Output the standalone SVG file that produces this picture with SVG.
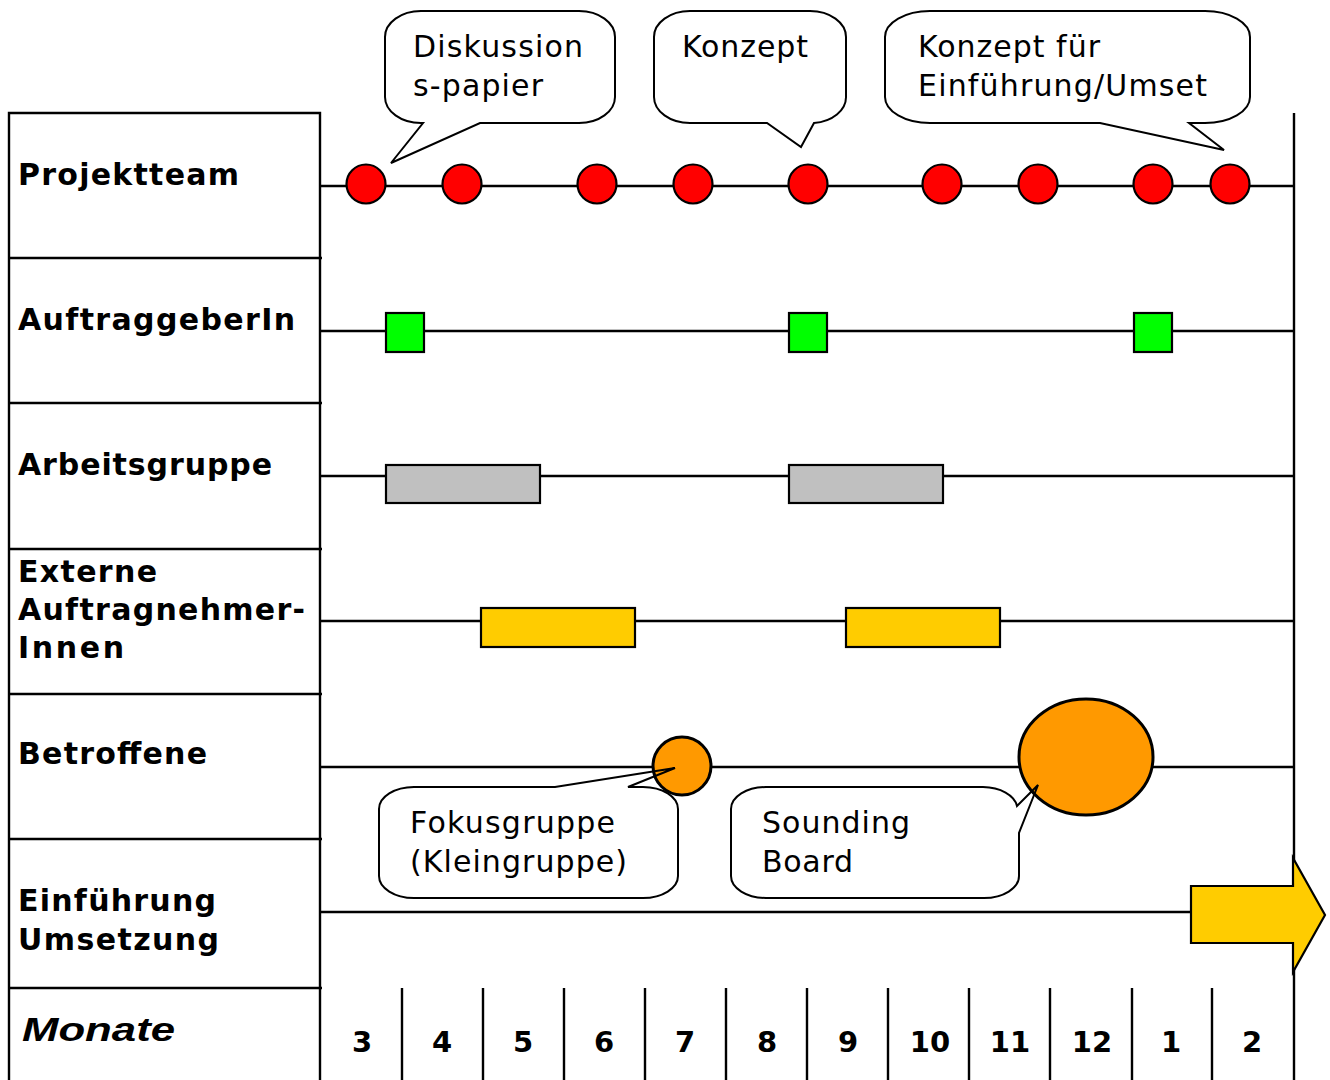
<svg xmlns="http://www.w3.org/2000/svg" width="1330" height="1080" viewBox="0 0 1330 1080">
  <style>
    .grid { stroke: #000; stroke-width: 2.4; fill: none; }
    .lane { stroke: #000; stroke-width: 2.4; }
    .lbl { font-family: "DejaVu Sans", Verdana, sans-serif; font-weight: bold; font-size: 30px; fill: #000; }
    .axis { font-family: "Liberation Sans", Arial, sans-serif; font-weight: bold; font-style: italic; font-size: 34px; fill: #000; }
    .mon { font-family: "DejaVu Sans", Verdana, sans-serif; font-weight: bold; font-size: 29px; fill: #000; text-anchor: middle; }
    .note { font-family: "DejaVu Sans", Verdana, sans-serif; font-size: 30px; fill: #000; }
    .call { fill: none; stroke: #000; stroke-width: 2; stroke-linejoin: miter; }
    .meet { fill: #FF0000; stroke: #000; stroke-width: 2.2; }
    .client { fill: #00FF00; stroke: #000; stroke-width: 2.2; }
    .work { fill: #C0C0C0; stroke: #000; stroke-width: 2.2; }
    .ext { fill: #FFCC00; stroke: #000; stroke-width: 2.2; }
    .aff { fill: #FF9900; stroke: #000; stroke-width: 3; }
  </style>

  <rect width="1330" height="1080" fill="#fff"/>

  <!-- table frame and row separators -->
  <g id="table">
    <path class="grid" d="M9,1080 V113 H320 V1080"/>
    <path class="grid" d="M9,258 H322 M9,403 H322 M9,549 H322 M9,694 H322 M9,839 H322 M9,988 H322"/>
    <path class="grid" d="M1294,113 V1080"/>
    <path class="grid" d="M402,988 V1080 M483,988 V1080 M564,988 V1080 M645,988 V1080 M726,988 V1080 M807,988 V1080 M888,988 V1080 M969,988 V1080 M1050,988 V1080 M1132,988 V1080 M1212,988 V1080"/>
  </g>

  <!-- swimlane lines -->
  <g id="connectors">
    <line class="lane" x1="320" y1="186" x2="1294" y2="186"/>
    <line class="lane" x1="320" y1="331" x2="1294" y2="331"/>
    <line class="lane" x1="320" y1="476" x2="1294" y2="476"/>
    <line class="lane" x1="320" y1="621" x2="1294" y2="621"/>
    <line class="lane" x1="320" y1="767" x2="1294" y2="767"/>
    <line class="lane" x1="320" y1="912" x2="1294" y2="912"/>
  </g>

  <!-- row labels -->
  <g id="labels">
    <text class="lbl" x="18" y="185" textLength="221" lengthAdjust="spacing">Projektteam</text>
    <text class="lbl" x="18" y="330" textLength="277" lengthAdjust="spacing">AuftraggeberIn</text>
    <text class="lbl" x="18" y="475" textLength="254" lengthAdjust="spacing">Arbeitsgruppe</text>
    <text class="lbl" x="18" y="582" textLength="139" lengthAdjust="spacing">Externe</text>
    <text class="lbl" x="18" y="620" textLength="287" lengthAdjust="spacing">Auftragnehmer-</text>
    <text class="lbl" x="18" y="658" textLength="106" lengthAdjust="spacing">Innen</text>
    <text class="lbl" x="18" y="764" textLength="189" lengthAdjust="spacing">Betroffene</text>
    <text class="lbl" x="18" y="911" textLength="198" lengthAdjust="spacing">Einführung</text>
    <text class="lbl" x="18" y="950" textLength="201" lengthAdjust="spacing">Umsetzung</text>
    <text class="axis" x="22" y="1041" textLength="153" lengthAdjust="spacingAndGlyphs">Monate</text>
  </g>

  <!-- month numbers -->
  <g id="months">
    <text class="mon" x="362" y="1052">3</text>
    <text class="mon" x="442" y="1052">4</text>
    <text class="mon" x="523" y="1052">5</text>
    <text class="mon" x="604" y="1052">6</text>
    <text class="mon" x="685" y="1052">7</text>
    <text class="mon" x="767" y="1052">8</text>
    <text class="mon" x="848" y="1052">9</text>
    <text class="mon" x="930" y="1052">10</text>
    <text class="mon" x="1010" y="1052">11</text>
    <text class="mon" x="1092" y="1052">12</text>
    <text class="mon" x="1171" y="1052">1</text>
    <text class="mon" x="1252" y="1052">2</text>
  </g>

  <!-- Projektteam meetings -->
  <g id="projektteam">
    <circle class="meet" cx="366" cy="184" r="19.5"/>
    <circle class="meet" cx="462" cy="184" r="19.5"/>
    <circle class="meet" cx="597" cy="184" r="19.5"/>
    <circle class="meet" cx="693" cy="184" r="19.5"/>
    <circle class="meet" cx="808" cy="184" r="19.5"/>
    <circle class="meet" cx="942" cy="184" r="19.5"/>
    <circle class="meet" cx="1038" cy="184" r="19.5"/>
    <circle class="meet" cx="1153" cy="184" r="19.5"/>
    <circle class="meet" cx="1230" cy="184" r="19.5"/>
  </g>

  <!-- AuftraggeberIn milestones -->
  <g id="auftraggeber">
    <rect class="client" x="386" y="313" width="38" height="39"/>
    <rect class="client" x="789" y="313" width="38" height="39"/>
    <rect class="client" x="1134" y="313" width="38" height="39"/>
  </g>

  <!-- Arbeitsgruppe phases -->
  <g id="arbeitsgruppe">
    <rect class="work" x="386" y="465" width="154" height="38"/>
    <rect class="work" x="789" y="465" width="154" height="38"/>
  </g>

  <!-- external contractors -->
  <g id="extern">
    <rect class="ext" x="481" y="608" width="154" height="39"/>
    <rect class="ext" x="846" y="608" width="154" height="39"/>
  </g>

  <!-- affected groups -->
  <g id="betroffene">
    <circle class="aff" cx="682" cy="766" r="29"/>
    <ellipse class="aff" cx="1086" cy="757" rx="67" ry="58"/>
  </g>

  <!-- rollout arrow -->
  <g id="umsetzung">
    <path class="ext" d="M1191,886 H1293 V858 L1325,915 L1293,972 V943 H1191 Z"/>
  </g>

  <!-- callouts -->
  <g id="callout-diskussion">
    <path class="call" d="M421,11 H579 A36,26 0 0 1 615,37 V97 A36,26 0 0 1 579,123 H480 L391,163 L423,123 H421 A36,26 0 0 1 385,97 V37 A36,26 0 0 1 421,11 Z"/>
    <text class="note" x="413" y="57" textLength="170" lengthAdjust="spacing">Diskussion</text>
    <text class="note" x="413" y="96" textLength="130" lengthAdjust="spacing">s-papier</text>
  </g>
  <g id="callout-konzept">
    <path class="call" d="M690,11 H810 A36,26 0 0 1 846,37 V97 A36,26 0 0 1 814,123 L801,147 L767,123 H690 A36,26 0 0 1 654,97 V37 A36,26 0 0 1 690,11 Z"/>
    <text class="note" x="682" y="57" textLength="126" lengthAdjust="spacing">Konzept</text>
  </g>
  <g id="callout-einfuehrung">
    <path class="call" d="M930,11 H1205 A45,26 0 0 1 1250,37 V97 A45,26 0 0 1 1205,123 H1189 L1224,150 L1100,123 H930 A45,26 0 0 1 885,97 V37 A45,26 0 0 1 930,11 Z"/>
    <text class="note" x="918" y="57" textLength="182" lengthAdjust="spacing">Konzept für</text>
    <text class="note" x="918" y="96" textLength="289" lengthAdjust="spacing">Einführung/Umset</text>
  </g>
  <g id="callout-fokusgruppe">
    <path class="call" d="M414,787 H555 L675,768 L628,787 H643 A35,22 0 0 1 678,809 V876 A35,22 0 0 1 643,898 H414 A35,22 0 0 1 379,876 V809 A35,22 0 0 1 414,787 Z"/>
    <text class="note" x="410" y="833" textLength="205" lengthAdjust="spacing">Fokusgruppe</text>
    <text class="note" x="410" y="872" textLength="217" lengthAdjust="spacing">(Kleingruppe)</text>
  </g>
  <g id="callout-sounding">
    <path class="call" d="M766,787 H983 A35,22 0 0 1 1017,806 L1038,785 L1019,833 V876 A35,22 0 0 1 984,898 H766 A35,22 0 0 1 731,876 V809 A35,22 0 0 1 766,787 Z"/>
    <text class="note" x="762" y="833" textLength="148" lengthAdjust="spacing">Sounding</text>
    <text class="note" x="762" y="872" textLength="91" lengthAdjust="spacing">Board</text>
  </g>
</svg>
